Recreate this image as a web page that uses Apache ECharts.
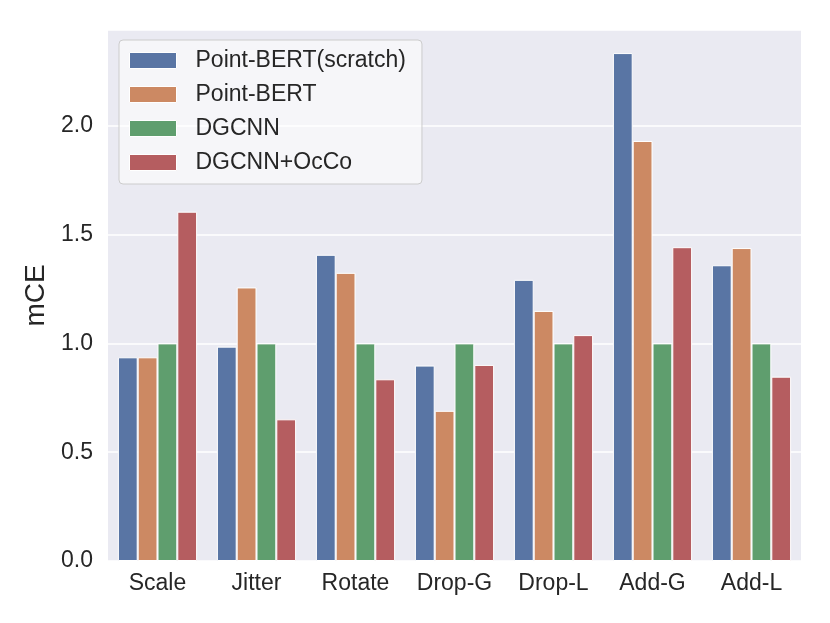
<!DOCTYPE html>
<html><head><meta charset="utf-8">
<script src="https://cdn.jsdelivr.net/npm/echarts@6/dist/echarts.min.js"></script>
<style>html,body{margin:0;padding:0;background:#fff}#c{width:830px;height:623px}</style>
</head><body><div id="c"></div>
<script>
const categories = ['Scale','Jitter','Rotate','Drop-G','Drop-L','Add-G','Add-L'];
const seriesNames = ['Point-BERT(scratch)','Point-BERT','DGCNN','DGCNN+OcCo'];
const pointBertScratch = [0.936, 0.985, 1.407, 0.898, 1.292, 2.334, 1.359];
const pointBert = [0.936, 1.257, 1.324, 0.690, 1.149, 1.930, 1.438];
const dgcnn = [1.0, 1.0, 1.0, 1.0, 1.0, 1.0, 1.0];
const dgcnnOcco = [1.605, 0.651, 0.835, 0.901, 1.038, 1.442, 0.847];
const yTicks = [0.0, 0.5, 1.0, 1.5, 2.0];
const colors = ['#5975a4','#cc8963','#5f9e6e','#b55d60'];
const FONT = 'Liberation Sans, Arial, sans-serif';
const values = [pointBertScratch, pointBert, dgcnn, dgcnnOcco];
const chart = echarts.init(document.getElementById('c'));
chart.setOption({
  animation: false,
  backgroundColor: '#ffffff',
  textStyle: { fontFamily: FONT },
  grid: { left: 108, right: 29, top: 30, bottom: 62, show: true, backgroundColor: '#eaeaf2', borderWidth: 0 },
  legend: {
    orient: 'vertical', left: 119, top: 40,
    data: seriesNames,
    icon: 'rect', itemWidth: 47, itemHeight: 16, itemGap: 11,
    backgroundColor: 'rgba(255,255,255,0.55)', borderColor: '#cccccc', borderWidth: 1, borderRadius: 4,
    padding: [9, 16, 10, 10],
    itemStyle: { borderColor: '#ffffff', borderWidth: 1 },
    textStyle: { fontSize: 23, lineHeight: 23, color: '#262626', fontFamily: FONT, padding: [0,0,0,14] }
  },
  xAxis: {
    type: 'category', data: categories,
    axisLine: { show: false }, axisTick: { show: false },
    axisLabel: { fontSize: 23, color: '#262626', margin: 11, fontFamily: FONT },
    splitLine: { show: false }
  },
  yAxis: {
    type: 'value', min: 0, max: 2.44, interval: 0.5,
    name: 'mCE', nameLocation: 'middle', nameGap: 50,
    nameTextStyle: { fontSize: 28, color: '#262626', fontFamily: FONT },
    axisLine: { show: false }, axisTick: { show: false },
    axisLabel: { fontSize: 23, color: '#262626', margin: 15, fontFamily: FONT,
      formatter: v => yTicks.some(t => Math.abs(t - v) < 1e-9) ? v.toFixed(1) : '' },
    splitLine: { show: true, lineStyle: { color: '#ffffff', width: 1.5 } }
  },
  series: seriesNames.map((n, i) => ({
    name: n, type: 'bar', data: values[i],
    barGap: '0%', barCategoryGap: '20%',
    itemStyle: { color: colors[i], borderColor: '#ffffff', borderWidth: 1 }
  }))
});
</script></body></html>
